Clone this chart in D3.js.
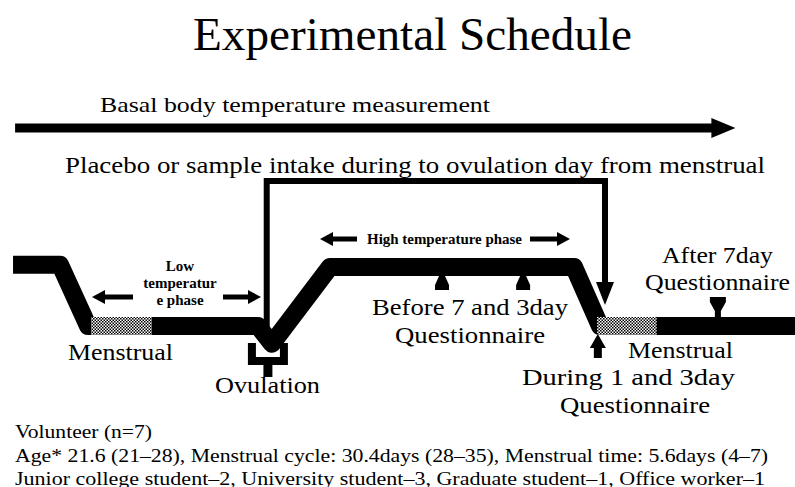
<!DOCTYPE html>
<html><head><meta charset="utf-8">
<script src="https://cdn.jsdelivr.net/npm/d3@7"></script>
<style>html,body{margin:0;padding:0;background:#fff}svg{display:block}</style>
</head><body>
<script>
// ---- data (schematic timeline: position in % of cycle timeline, temperature level 0=low,1=high)
const tempTimeline = [1.64, 7.55, 11.07, 32.45, 34.2, 41.5, 72.2, 75.47, 100];
const tempLevel    = [1.04, 1.04, 0, 0, -0.3, 1, 1, 0, 0];
const menstrualStart = [11.45, 75.1];
const menstrualEnd   = [19.1, 82.6];
const questionnaireUp = [55.6, 65.8];      // before 7 and 3 day
const duringMarker = 75.2;
const afterMarker = 90.3;
const ovulationPos = 33.7;
const intakeStart = 33.55, intakeEnd = 76.1;
const title = "Experimental Schedule";
const basalLabel = "Basal body temperature measurement";
const intakeLabel = "Placebo or sample intake during to ovulation day from menstrual";
const infoLines = [
  "Volunteer (n=7)",
  "Age* 21.6 (21–28), Menstrual cycle: 30.4days (28–35), Menstrual time: 5.6days (4–7)",
  "Junior college student–2, University student–3, Graduate student–1, Office worker–1"
];

const W = 795, H = 487;
const x = d3.scaleLinear().domain([0, 100]).range([0, W]);
const y = d3.scaleLinear().domain([0, 1]).range([326, 267]);
const FONT = "Liberation Serif, Times New Roman, serif";

const svg = d3.select("body").append("svg").attr("width", W).attr("height", H);
const defs = svg.append("defs");
const pat = defs.append("pattern").attr("id","stip").attr("width",3).attr("height",3).attr("patternUnits","userSpaceOnUse");
pat.append("rect").attr("width",3).attr("height",3).attr("fill","#fff");
pat.append("rect").attr("width",1.5).attr("height",1.5).attr("fill","#000");
pat.append("rect").attr("x",1.5).attr("y",1.5).attr("width",1.5).attr("height",1.5).attr("fill","#000");

function txt(s, x0, x1, base, size) {
  return svg.append("text").attr("x", x0).attr("y", base)
    .style("font-family", FONT).attr("font-size", size).attr("fill", "#000")
    .attr("textLength", x1 - x0).attr("lengthAdjust", "spacingAndGlyphs").text(s);
}
function hArrow(xTail, xTip, yc, sw, hl, hw) {
  const dir = Math.sign(xTip - xTail);
  svg.append("line").attr("x1", xTail).attr("x2", xTip - dir*hl + dir).attr("y1", yc).attr("y2", yc)
    .attr("stroke","#000").attr("stroke-width", sw);
  svg.append("path").attr("d", `M${xTip},${yc} L${xTip-dir*hl},${yc-hw} L${xTip-dir*hl},${yc+hw} Z`).attr("fill","#000");
}

// Title
txt(title, 193, 632, 50, 47);

// Basal body temperature arrow
txt(basalLabel, 100, 490, 112, 22);
hArrow(x(1.9), x(92.5), 128, 9, 24, 10);

// Intake bracket
txt(intakeLabel, 65, 765, 173, 23);
const bx0 = x(intakeStart), bx1 = x(intakeEnd);
svg.append("path").attr("d", `M${bx0},327 V181 H${bx1} V284`)
  .attr("fill","none").attr("stroke","#000").attr("stroke-width",6).attr("stroke-linejoin","miter");
svg.append("path").attr("d", `M${bx1-9},282 L${bx1+9},282 L${bx1},305 Z`).attr("fill","#000");

// Temperature curve
const line = d3.line().x((d,i)=>x(tempTimeline[i])).y((d,i)=>y(tempLevel[i]));
svg.append("path").attr("d", line(tempTimeline)).attr("fill","none").attr("stroke","#000")
  .attr("stroke-width",18).attr("stroke-linejoin","round");

// Menstrual stipple boxes
menstrualStart.forEach((s,i)=>{
  svg.append("rect").attr("x", x(s)).attr("y", y(0)-9).attr("width", x(menstrualEnd[i])-x(s)).attr("height", 18)
    .attr("fill","url(#stip)");
});

// Ovulation cup
const oc = x(ovulationPos);
svg.append("path").attr("d", `M${oc-16},343 V361 H${oc+16} V343`).attr("fill","none").attr("stroke","#000").attr("stroke-width",8);
svg.append("line").attr("x1",oc).attr("x2",oc).attr("y1",361).attr("y2",377).attr("stroke","#000").attr("stroke-width",9);

// Questionnaire up markers below high plateau
questionnaireUp.forEach(q=>{
  const c = x(q), t = y(1)+9;
  svg.append("path").attr("d", `M${c-3},${t} L${c+3},${t} L${c+7},${t+9} L${c+7},${t+14} L${c-7},${t+14} L${c-7},${t+9} Z`).attr("fill","#000");
});
// During marker (up arrow)
{
  const c = x(duringMarker);
  svg.append("path").attr("d", `M${c},334 L${c+8},348 L${c+4},348 L${c+4},358 L${c-4},358 L${c-4},348 L${c-8},348 Z`).attr("fill","#000");
}
// After marker (down arrow)
{
  const c = x(afterMarker), b = y(0)-9;
  svg.append("path").attr("d", `M${c-8},297 L${c+8},297 L${c+8},302 L${c+3},311 L${c+3},${b+1} L${c-3},${b+1} L${c-3},311 L${c-8},302 Z`).attr("fill","#000");
}

// Low temperature phase
[["Low",271],["temperatur",288],["e phase",305]].forEach(([s,b])=>{
  svg.append("text").attr("x",180).attr("y",b).attr("text-anchor","middle").style("font-family",FONT)
    .attr("font-size",15).attr("font-weight","bold").text(s);
});
hArrow(133, 92, 297, 5, 13, 7);
hArrow(223, 261, 297, 5, 13, 7);

// High temperature phase
txt("High temperature phase", 367, 522, 244, 15).attr("font-weight","bold");
hArrow(357, 320, 239, 5, 13, 7);
hArrow(530, 570, 239, 5, 13, 7);

// Labels
txt("Menstrual", 68, 173, 360, 23);
txt("Ovulation", 215, 320, 393, 23);
txt("Before 7 and 3day", 372, 568, 315, 23);
txt("Questionnaire", 395, 545, 343, 23);
txt("After 7day", 662, 773, 263, 23);
txt("Questionnaire", 645, 790, 290, 23);
txt("Menstrual", 628, 733, 358, 23);
txt("During 1 and 3day", 522, 735, 385, 23);
txt("Questionnaire", 560, 710, 413, 23);

// Info lines
const infoEnds = [152, 768, 765];
infoLines.forEach((s,i)=> txt(s, 15, infoEnds[i], 438 + i*23.5, 19));
</script>
</body></html>
